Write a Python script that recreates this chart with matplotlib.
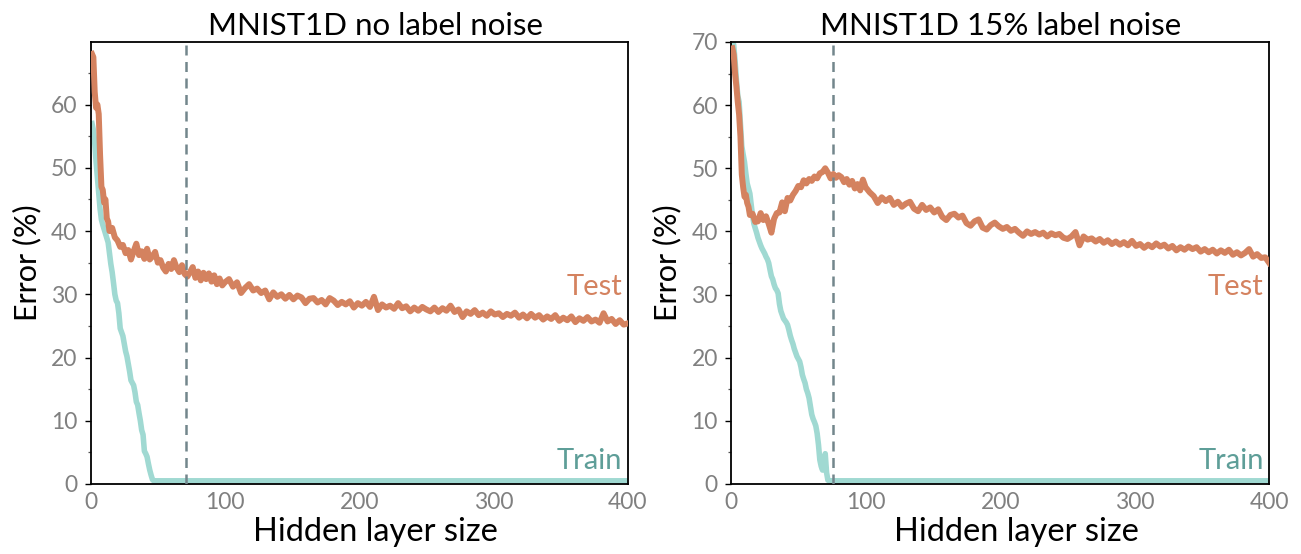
import matplotlib
matplotlib.use("Agg")
import matplotlib.pyplot as plt
from matplotlib.ticker import FixedLocator

plt.rcParams['font.family'] = ['Lato', 'DejaVu Sans']

titles = ["MNIST1D no label noise", "MNIST1D 15% label noise"]
xlabel = "Hidden layer size"
ylabel = "Error (%)"
xticks = [0, 100, 200, 300, 400]
yticks_left = [0, 10, 20, 30, 40, 50, 60]
yticks_right = [0, 10, 20, 30, 40, 50, 60, 70]
vline_x = [71, 76]

# ---- left panel: no label noise ----
left_test_x = [1,2,3,4,5,6,7,8,9,10,11,12,13,14,16,18,20,22,24,26,28,30,32,34,36,38,40,42,44,46,48,50,
               52,54,56,58,60,62,64,66,68,70,72,74,76,78,80,82,84,86,88,90,92,94,96,98,100,
               103,106,109,112,115,118,121,124,127,130,133,136,139,142,145,148,151,154,157,160,
               163,166,169,172,175,178,181,184,187,190,193,196,199,202,205,208,211,214,217,220,
               223,226,229,232,235,238,241,244,247,250,253,256,259,262,265,268,271,274,277,280,
               283,286,289,292,295,298,301,304,307,310,313,316,319,322,325,328,331,334,337,340,
               343,346,349,352,355,358,361,364,367,370,373,376,379,382,385,388,391,394,397,400]
left_test_y = [68.0,67.5,62.0,59.5,60.0,58.5,52.0,47.0,46.5,44.5,45.0,42.0,41.5,40.0,40.5,39.0,38.5,37.5,37.8,36.5,37.0,35.5,36.8,38.0,36.2,36.8,35.6,37.2,35.5,36.0,36.7,35.0,
               35.4,34.2,33.6,34.8,34.0,35.4,34.2,33.5,34.6,33.2,32.8,33.5,34.3,32.6,33.6,32.2,33.4,32.4,33.3,32.0,33.0,31.6,32.5,31.4,31.9,
               32.4,31.2,31.9,30.2,31.0,31.6,30.6,30.9,30.2,30.6,29.2,30.3,29.6,30.0,29.3,29.9,29.2,29.8,29.5,28.6,
               29.3,29.4,28.7,29.1,28.4,29.4,29.0,28.3,28.8,28.4,28.9,27.9,28.6,28.2,28.8,28.0,29.6,27.5,28.4,27.9,
               28.2,27.7,28.6,27.8,28.1,27.3,27.9,27.4,28.0,27.6,27.3,27.9,27.2,27.8,27.4,28.2,27.2,27.6,26.4,27.3,
               26.9,27.5,26.7,27.1,26.6,27.3,26.8,27.0,26.4,26.9,26.6,27.1,26.3,26.8,26.2,26.9,26.3,26.7,26.0,26.5,
               26.1,26.7,25.8,26.3,25.9,26.5,25.6,26.2,25.8,26.4,25.7,26.0,25.5,27.0,25.7,26.1,25.3,25.9,25.2,25.4]

left_train_x = [1,2,3,4,5,6,7,8,9,10,11,12,13,14,15,16,17,18,19,20,21,22,23,24,25,26,27,28,29,30,
                31,32,33,34,35,36,37,38,39,40,41,42,43,44,45,46,47,400]
left_train_y = [57.0,56.0,54.0,51.0,48.5,46.0,43.5,41.8,41.0,40.3,39.6,38.9,38.2,36.5,34.8,33.5,31.8,30.0,29.0,28.6,
                27.0,24.6,24.0,23.4,22.2,21.0,20.2,19.0,17.8,16.4,16.0,15.6,14.5,13.0,12.5,11.2,10.0,8.5,7.8,5.2,
                4.8,4.3,3.2,2.2,1.4,0.7,0.5,0.5]

# ---- right panel: 15% label noise ----
right_test_x = [1,2,3,4,5,6,7,8,9,10,11,12,13,14,16,18,20,22,24,26,28,30,32,34,36,38,40,42,44,46,48,50,
                52,54,56,58,60,62,64,66,68,70,72,74,76,78,80,82,84,86,88,90,92,94,96,98,100,
                103,106,109,112,115,118,121,124,127,130,133,136,139,142,145,148,151,154,157,160,
                163,166,169,172,175,178,181,184,187,190,193,196,199,202,205,208,211,214,217,220,
                223,226,229,232,235,238,241,244,247,250,253,256,259,262,265,268,271,274,277,280,
                283,286,289,292,295,298,301,304,307,310,313,316,319,322,325,328,331,334,337,340,
                343,346,349,352,355,358,361,364,367,370,373,376,379,382,385,388,391,394,397,400]
right_test_y = [69.0,68.0,65.0,62.9,60.5,58.5,55.0,49.0,47.0,45.5,45.8,44.5,43.9,42.6,42.8,41.5,41.6,42.9,41.8,42.4,41.2,39.8,42.0,42.9,43.0,44.6,43.2,45.3,44.9,45.8,46.4,47.2,
                47.0,48.1,47.6,48.3,48.0,48.7,48.4,49.2,49.4,50.0,49.3,48.4,49.1,48.5,48.9,48.6,47.8,48.3,47.4,48.0,46.8,47.5,46.5,48.2,47.0,
                46.2,45.6,44.5,45.4,44.8,45.3,44.2,44.7,43.9,44.4,44.7,43.6,43.2,44.2,43.4,43.8,43.0,43.5,42.3,41.8,
                42.6,42.8,42.2,42.5,41.3,40.9,41.6,41.9,40.6,40.3,41.0,41.4,40.8,40.4,40.7,40.1,40.4,39.8,39.3,40.0,
                39.6,39.9,39.5,39.8,39.2,39.7,39.4,39.6,39.0,38.8,39.2,39.9,37.8,39.2,38.7,38.9,38.4,38.8,38.2,38.6,
                38.0,38.4,37.9,38.3,37.8,38.5,37.7,38.0,37.4,37.9,37.5,38.1,37.6,37.9,37.3,37.7,37.0,37.5,37.1,37.6,
                37.2,37.5,36.8,37.2,36.7,37.1,36.5,37.0,36.6,37.1,36.3,36.7,36.2,36.6,37.2,36.0,36.4,35.8,35.9,35.0]

right_train_x = [1,2,3,4,5,6,7,8,9,10,11,12,13,14,15,16,17,18,19,20,21,22,23,24,25,26,27,28,29,30,
                 31,32,33,34,35,36,37,38,39,40,41,42,43,44,45,46,47,48,49,50,51,52,53,54,55,56,57,58,59,60,
                 61,62,63,64,65,66,67,68,69,70,71,72,73,400]
right_train_y = [70.5,69.5,67.0,64.0,61.5,60.5,57.0,53.5,52.2,51.0,49.2,47.6,46.8,46.0,44.2,42.5,41.2,40.5,39.8,39.0,
                 38.4,37.8,37.3,36.9,36.5,36.0,35.6,35.0,33.9,32.9,32.4,31.6,31.0,30.7,30.2,28.5,27.4,26.8,26.2,25.9,
                 25.6,25.2,24.4,23.5,22.8,22.2,21.4,20.8,20.2,19.8,19.4,18.5,17.3,16.6,16.0,15.0,14.4,13.6,12.3,11.0,
                 10.3,9.8,9.2,8.0,6.2,3.8,2.8,2.2,3.2,4.8,1.8,0.6,0.5,0.5]

test_color = "#D4825F"
train_color = "#A0D9D2"
train_text_color = "#5E9E98"
vline_color = "#73868C"
tick_color = "#808080"

fig = plt.figure(figsize=(13.01, 5.54), dpi=100)
ax1 = fig.add_axes([0.0697, 0.1264, 0.4128, 0.7978])
ax2 = fig.add_axes([0.5619, 0.1264, 0.4137, 0.7978])

panels = [
    (ax1, left_test_x, left_test_y, left_train_x, left_train_y, yticks_left, 69.9, vline_x[0], titles[0], 0.53),
    (ax2, right_test_x, right_test_y, right_train_x, right_train_y, yticks_right, 70.0, vline_x[1], titles[1], 0.5),
]

for ax, tx, ty, rx, ry, yt, ytop, vx, title, tpos in panels:
    ax.plot(rx, ry, color=train_color, lw=4.0, solid_joinstyle='round', zorder=2)
    ax.plot(tx, ty, color=test_color, lw=4.3, solid_joinstyle='round', zorder=3)
    ax.axvline(vx, color=vline_color, lw=1.8, dashes=(4, 2.6), zorder=4)
    ax.set_xlim(0, 400)
    ax.set_ylim(0, ytop)
    ax.xaxis.set_major_locator(FixedLocator(xticks))
    ax.yaxis.set_major_locator(FixedLocator(yt))
    ax.yaxis.set_minor_locator(FixedLocator([5, 15, 25, 35, 45, 55, 65]))
    ax.tick_params(axis='y', which='major', length=4.5, width=1.0, color='black',
                   labelsize=16.5, labelcolor=tick_color, pad=5)
    ax.tick_params(axis='y', which='minor', length=2.5, width=0.9, color='#555555')
    ax.tick_params(axis='x', which='major', length=0, labelsize=16.5,
                   labelcolor=tick_color, pad=6)
    for s in ax.spines.values():
        s.set_linewidth(1.3)
        s.set_color('black')
    ax.set_title(title, fontsize=22.5, pad=5, x=tpos)
    ax.set_xlabel(xlabel, fontsize=23.5, labelpad=3)
    ax.xaxis.label.set_x(0.53)
    ax.set_ylabel(ylabel, fontsize=22, labelpad=7)
    ax.text(396, 31.2, "Test", color=test_color, fontsize=21, ha='right', va='center')
    ax.text(396, 3.6, "Train", color=train_text_color, fontsize=21, ha='right', va='center')

fig.savefig("out.png", dpi=100)
